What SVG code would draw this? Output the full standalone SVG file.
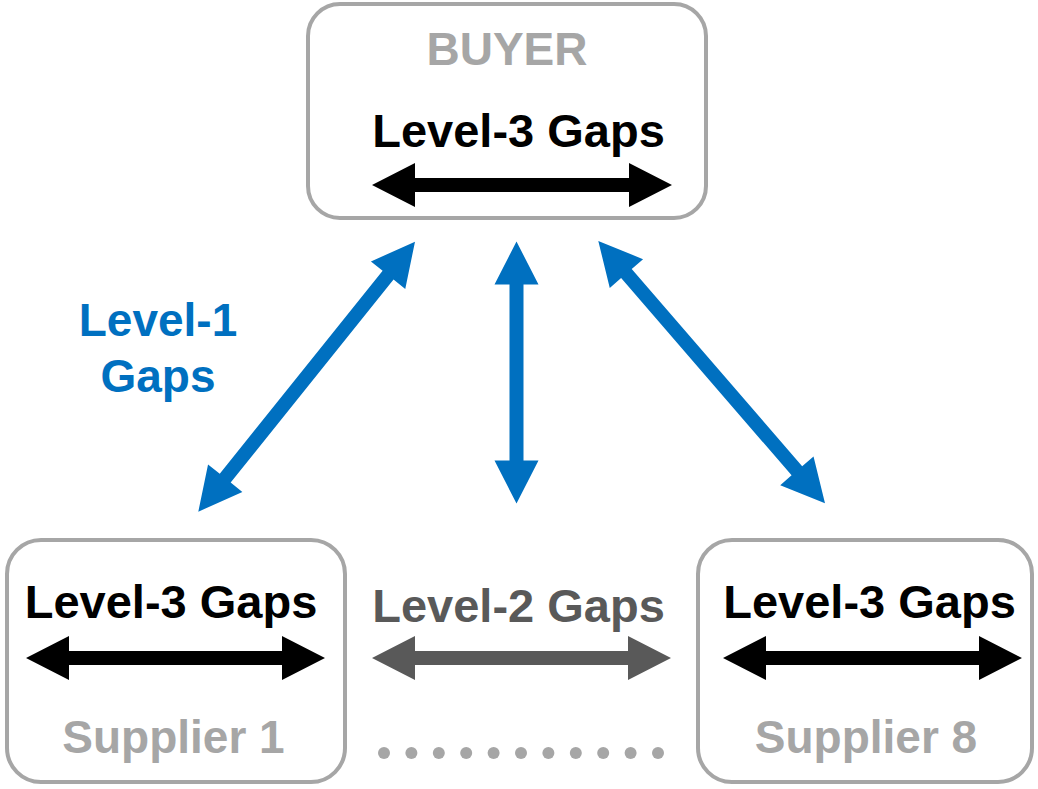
<svg xmlns="http://www.w3.org/2000/svg" width="1038" height="789" viewBox="0 0 1038 789">
<style>
.box{fill:#ffffff;stroke:#a6a6a6;stroke-width:4}
.t{font-family:"Liberation Sans",Arial,sans-serif;font-weight:bold;text-anchor:middle}
.gap{font-size:47px;fill:#000000}
.name{font-size:46px;fill:#a6a6a6}
.blk{fill:#000000}
.blue{fill:#0070c0}
.gray{fill:#595959}
.dot{fill:#a6a6a6}
</style>
<rect width="1038" height="789" fill="#ffffff"/>
<g id="buyer">
<rect class="box" x="308" y="4" width="398" height="214" rx="32" ry="32"/>
<text class="t name" x="507" y="65">BUYER</text>
<text class="t gap" x="518.5" y="147">Level-3 Gaps</text>
<polygon class="blk" points="372,185 415,163 415,178 629,178 629,163 672,185 629,207 629,192 415,192 415,207"/>
</g>
<g id="supplier1">
<rect class="box" x="7" y="540" width="338" height="242" rx="34" ry="34"/>
<text class="t gap" x="171" y="618">Level-3 Gaps</text>
<polygon class="blk" points="26,658 69,636 69,651 282,651 282,636 325,658 282,680 282,665 69,665 69,680"/>
<text class="t name" x="173.5" y="753">Supplier 1</text>
</g>
<g id="supplier8">
<rect class="box" x="698" y="540" width="334" height="242" rx="34" ry="34"/>
<text class="t gap" x="869.5" y="618">Level-3 Gaps</text>
<polygon class="blk" points="723,658 766,636 766,651 979,651 979,636 1022,658 979,680 979,665 766,665 766,680"/>
<text class="t name" x="866" y="753">Supplier 8</text>
</g>
<g id="level2">
<text class="t gap" x="518.5" y="622" style="fill:#595959">Level-2 Gaps</text>
<polygon class="gray" points="372,658 415,636 415,651 628,651 628,636 671,658 628,680 628,665 415,665 415,680"/>
</g>
<g id="dots">
<circle class="dot" cx="384" cy="753" r="6"/>
<circle class="dot" cx="411.4" cy="753" r="6"/>
<circle class="dot" cx="438.8" cy="753" r="6"/>
<circle class="dot" cx="466.2" cy="753" r="6"/>
<circle class="dot" cx="493.6" cy="753" r="6"/>
<circle class="dot" cx="521" cy="753" r="6"/>
<circle class="dot" cx="548.4" cy="753" r="6"/>
<circle class="dot" cx="575.8" cy="753" r="6"/>
<circle class="dot" cx="603.2" cy="753" r="6"/>
<circle class="dot" cx="630.6" cy="753" r="6"/>
<circle class="dot" cx="658" cy="753" r="6"/>
</g>
<g id="level1-label">
<text class="t" x="158" y="336" style="font-size:46px;fill:#0070c0">Level-1</text>
<text class="t" x="158" y="392" style="font-size:46px;fill:#0070c0">Gaps</text>
</g>
<g id="connectors">
<polygon class="blue" points="415,241.7 405.25,289.01 393.55,279.62 230.67,482.54 242.37,491.93 198.3,511.7 208.05,464.39 219.75,473.78 382.63,270.86 370.93,261.47"/>
<polygon class="blue" points="516.5,241.5 538.5,284.5 523.5,284.5 523.5,460.5 538.5,460.5 516.5,503.5 494.5,460.5 509.5,460.5 509.5,284.5 494.5,284.5"/>
<polygon class="blue" points="598.3,241 643.07,259.14 631.72,268.95 802.18,466.19 813.53,456.38 825,503.3 780.23,485.16 791.58,475.35 621.12,278.11 609.77,287.92"/>
</g>
</svg>
